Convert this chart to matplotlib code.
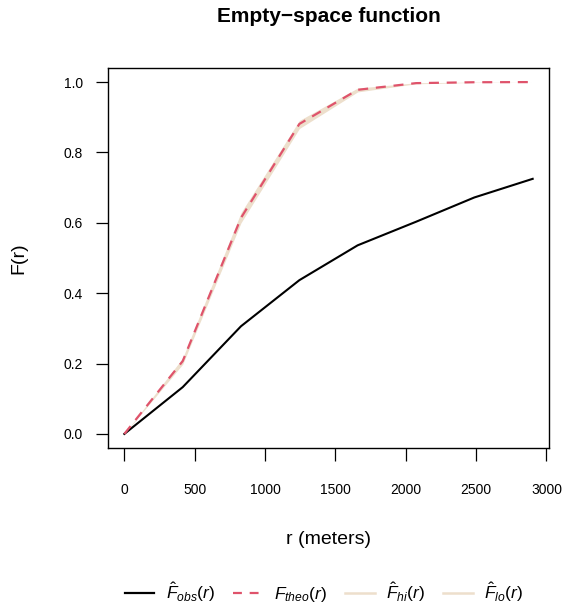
import matplotlib
matplotlib.use("Agg")
import matplotlib.pyplot as plt
from matplotlib.lines import Line2D


# distances (meters) and estimated empty-space function values
R_VALUES = [0, 415, 829, 1244, 1658, 2073, 2487, 2902]
F_OBS = [0.0, 0.133, 0.306, 0.437, 0.536, 0.603, 0.672, 0.725]
F_THEO = [0.0, 0.207, 0.614, 0.881, 0.978, 0.997, 0.9995, 1.0]
F_HI = [0.0, 0.216, 0.629, 0.891, 0.983, 0.998, 1.0, 1.0]
F_LO = [0.0, 0.198, 0.600, 0.868, 0.972, 0.995, 0.999, 1.0]

X_TICKS = [0, 500, 1000, 1500, 2000, 2500, 3000]
Y_TICKS = [0.0, 0.2, 0.4, 0.6, 0.8, 1.0]

LEGEND_LABELS = [
    r"$\hat{F}_{obs}(r)$",
    r"$F_{theo}(r)$",
    r"$\hat{F}_{hi}(r)$",
    r"$\hat{F}_{lo}(r)$",
]

COLORS = {
    "obs": "black",
    "theo": "#DF536B",
    "band": "#EDDFCC",
}


def apply_style():
    plt.rcParams["font.family"] = ["Liberation Sans", "DejaVu Sans"]
    plt.rcParams["mathtext.fontset"] = "custom"
    plt.rcParams["mathtext.rm"] = "Liberation Sans"
    plt.rcParams["mathtext.it"] = "Liberation Sans:italic"
    plt.rcParams["mathtext.bf"] = "Liberation Sans:bold"


def main():
    apply_style()
    fig = plt.figure(figsize=(5.64, 6.03), dpi=100)
    ax = fig.add_axes([108 / 564, 1 - 448 / 603, 441 / 564, 380 / 603])

    ax.fill_between(R_VALUES, F_LO, F_HI, color=COLORS["band"], linewidth=0)
    ax.plot(R_VALUES, F_OBS, color=COLORS["obs"], linewidth=1.5)
    ax.plot(R_VALUES, F_THEO, color=COLORS["theo"], linewidth=1.6,
            dashes=(4.5, 3.5))

    ax.set_xlim(-116, 3018)
    ax.set_ylim(-0.04, 1.04)
    ax.set_xticks(X_TICKS)
    ax.set_xticklabels([str(v) for v in X_TICKS])
    ax.set_yticks(Y_TICKS)
    ax.set_yticklabels([f"{v:.1f}" for v in Y_TICKS])
    ax.tick_params(axis="both", direction="out", length=9, width=0.9,
                   labelsize=10, colors="black")
    ax.tick_params(axis="x", pad=16)
    ax.tick_params(axis="y", pad=9)
    for spine in ax.spines.values():
        spine.set_linewidth(1.0)

    ax.set_xlabel("r (meters)", fontsize=14, va="center")
    ax.xaxis.set_label_coords(0.5, (448 - 540) / 380)
    ax.set_ylabel("F(r)", fontsize=14, va="center")
    ax.yaxis.set_label_coords((19 - 108) / 441, 0.5)

    fig.text(328.5 / 564, 1 - 17 / 603, "Empty\u2212space function",
             ha="center", va="center", fontsize=15, fontweight="bold")

    handles = [
        Line2D([], [], color=COLORS["obs"], linewidth=1.6),
        Line2D([], [], color=COLORS["theo"], linewidth=1.6, dashes=(4, 3.5)),
        Line2D([], [], color=COLORS["band"], linewidth=1.8),
        Line2D([], [], color=COLORS["band"], linewidth=1.8),
    ]
    fig.legend(handles, LEGEND_LABELS, loc="center", ncol=4, frameon=False,
               bbox_to_anchor=(324 / 564, 1 - 592 / 603), fontsize=12.5,
               handlelength=1.7, handletextpad=0.65, columnspacing=1.05)

    fig.savefig("out.png", dpi=100)
    plt.close(fig)


if __name__ == "__main__":
    main()
